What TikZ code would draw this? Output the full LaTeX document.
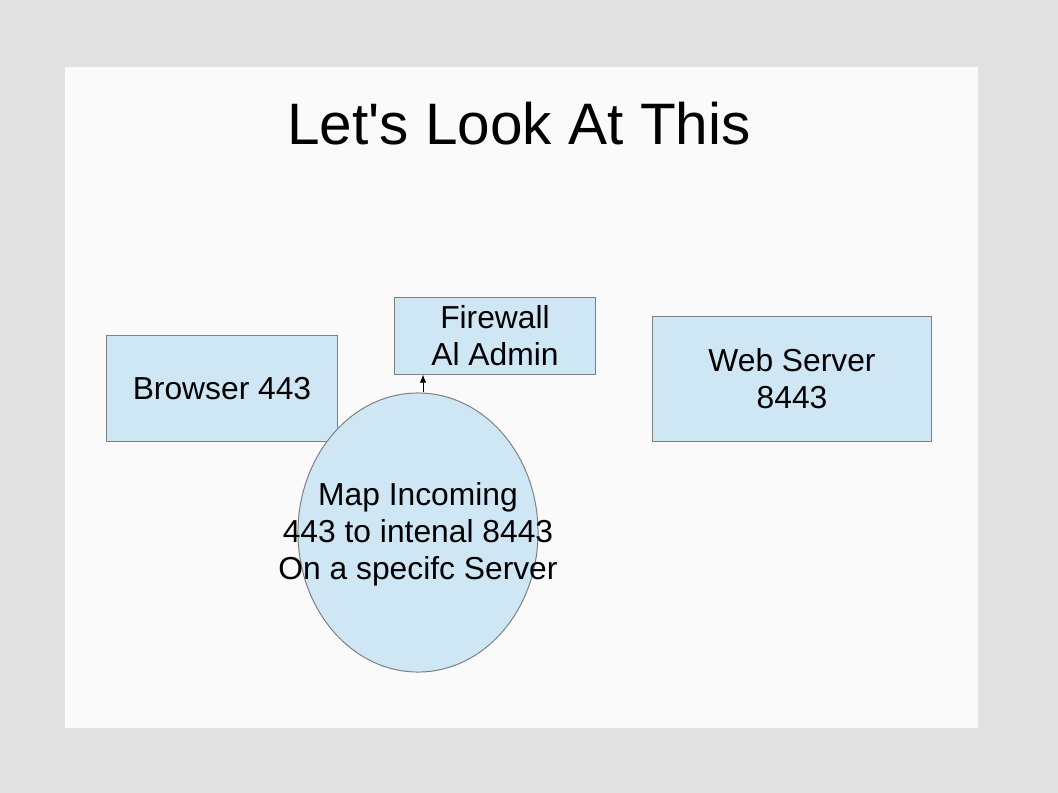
\documentclass[tikz,border=0pt]{standalone}
\usepackage{fontspec}
\setmainfont{Liberation Sans}
\newfontfamily\slidefont{Liberation Sans}
\usepackage{tikz}
\usetikzlibrary{shapes.geometric, arrows.meta}
\definecolor{boxblue}{HTML}{CFE7F5}
\definecolor{boxline}{HTML}{7F7F7F}
\definecolor{feather}{HTML}{E2E2E2}

\begin{document}
\begin{tikzpicture}[x=0.025cm, y=-0.025cm,
	box/.style={rectangle, draw=boxline, fill=boxblue, line width=0.7pt, inner sep=0pt, align=center, font=\fontsize{22.6}{26.5}\selectfont},
	oval/.style={ellipse, draw=boxline, fill=boxblue, line width=0.7pt, inner sep=0pt}]
	\useasboundingbox (0,0) rectangle (1058,793);
	\fill[feather] (0,0) rectangle (1058,793);
	\fill[white!96!gray] (65,67) rectangle (978,728);
	
	% title
	\node[anchor=base, inner sep=0pt, font=\slidefont\fontsize{41.6}{50}\selectfont] (title) at (519,145) {Let's Look At This};
	
	% boxes
	\node[box, minimum width=5.75cm, minimum height=2.625cm] (browser) at (222,388.5) {Browser 443};
	\node[box, minimum width=5cm, minimum height=1.9cm] (fw) at (495,336) {Firewall\\Al Admin};
	\node[box, minimum width=6.95cm, minimum height=3.1cm] (web) at (792,379) {Web Server\\8443};
	
	% port mapping
	\node[oval, minimum width=6cm, minimum height=6.975cm] (map) at (418,532.5) {};
	\node[align=center, inner sep=0pt, font=\fontsize{22.6}{26.5}\selectfont] (maptext) at ([yshift=-0.05cm]map.center) {Map Incoming\\443 to intenal 8443\\On a specifc Server};
	
	\coordinate (tip) at ([xshift=0.125cm]map.north);
	\draw[-{Latex[length=2mm, width=1.6mm]}, line width=0.7pt] (tip) -- (tip |- fw.south);
\end{tikzpicture}
\end{document}
